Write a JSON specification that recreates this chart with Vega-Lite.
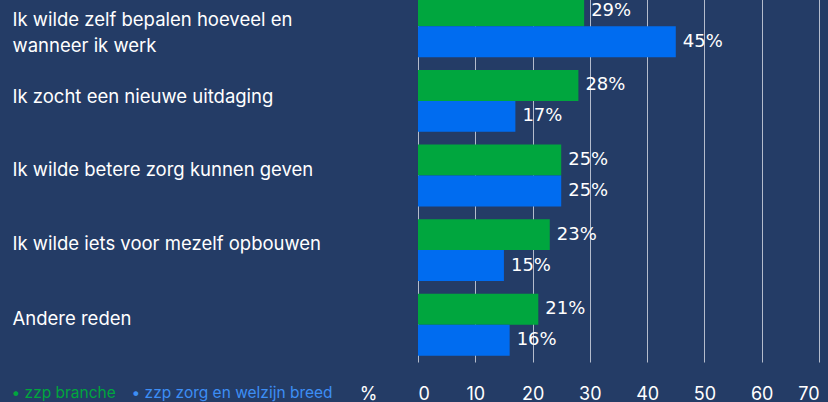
{
  "$schema": "https://vega.github.io/schema/vega-lite/v6.json",
  "autosize": {"type": "none"},
  "padding": {"left": 418, "right": 9, "top": -11, "bottom": 40},
  "width": 401,
  "height": 373,
  "background": "#243c66",
  "config": {"view": {"stroke": null}},
  "data": {
    "values": [
      {"reason": "Ik wilde zelf bepalen hoeveel en wanneer ik werk", "series": "zzp branche", "value": 29, "label": "29%"},
      {"reason": "Ik wilde zelf bepalen hoeveel en wanneer ik werk", "series": "zzp zorg en welzijn breed", "value": 45, "label": "45%"},
      {"reason": "Ik zocht een nieuwe uitdaging", "series": "zzp branche", "value": 28, "label": "28%"},
      {"reason": "Ik zocht een nieuwe uitdaging", "series": "zzp zorg en welzijn breed", "value": 17, "label": "17%"},
      {"reason": "Ik wilde betere zorg kunnen geven", "series": "zzp branche", "value": 25, "label": "25%"},
      {"reason": "Ik wilde betere zorg kunnen geven", "series": "zzp zorg en welzijn breed", "value": 25, "label": "25%"},
      {"reason": "Ik wilde iets voor mezelf opbouwen", "series": "zzp branche", "value": 23, "label": "23%"},
      {"reason": "Ik wilde iets voor mezelf opbouwen", "series": "zzp zorg en welzijn breed", "value": 15, "label": "15%"},
      {"reason": "Andere reden", "series": "zzp branche", "value": 21, "label": "21%"},
      {"reason": "Andere reden", "series": "zzp zorg en welzijn breed", "value": 16, "label": "16%"}
    ]
  },
  "encoding": {
    "y": {
      "field": "reason",
      "type": "nominal",
      "sort": null,
      "scale": {"paddingInner": 0.17, "paddingOuter": 0.085},
      "axis": {
        "title": null,
        "orient": "left",
        "ticks": false,
        "tickSize": 0,
        "domain": false,
        "labelAlign": "left",
        "labelPadding": 406,
        "labelLimit": 400,
        "labelFont": "Inter",
        "labelFontSize": 18.5,
        "labelColor": "#ffffff",
        "labelLineHeight": 26,
        "labelOffset": {"expr": "datum.value == 'Ik wilde zelf bepalen hoeveel en wanneer ik werk' ? -6 : (datum.value == 'Ik zocht een nieuwe uitdaging' ? -4 : -6)"},
        "labelExpr": "datum.label == 'Ik wilde zelf bepalen hoeveel en wanneer ik werk' ? ['Ik wilde zelf bepalen hoeveel en', 'wanneer ik werk'] : datum.label"
      }
    },
    "yOffset": {
      "field": "series",
      "type": "nominal",
      "sort": ["zzp branche", "zzp zorg en welzijn breed"]
    },
    "x": {
      "field": "value",
      "type": "quantitative",
      "scale": {"domain": [0, 70], "nice": false},
      "axis": {
        "values": [0, 10, 20, 30, 40, 50, 60, 70],
        "grid": true,
        "gridColor": "#b4bccc",
        "gridWidth": 1,
        "gridOpacity": 1,
        "ticks": false,
        "tickSize": 0,
        "domain": false,
        "labelFont": "Inter",
        "labelFontSize": 18,
        "labelColor": "#ffffff",
        "labelBaseline": "middle",
        "labelPadding": 32,
        "title": "%",
        "titleX": -50,
        "titleY": 32,
        "titleAlign": "center",
        "titleBaseline": "middle",
        "titleFont": "Inter",
        "titleFontSize": 18,
        "titleFontWeight": "normal",
        "titleColor": "#ffffff"
      }
    }
  },
  "layer": [
    {
      "mark": {"type": "bar"},
      "encoding": {
        "color": {
          "field": "series",
          "type": "nominal",
          "sort": ["zzp branche", "zzp zorg en welzijn breed"],
          "scale": {"domain": ["zzp branche", "zzp zorg en welzijn breed"], "range": ["#00a63e", "#006cf0"]},
          "legend": {
            "title": null,
            "orient": "none",
            "direction": "horizontal",
            "legendX": -422,
            "legendY": 396,
            "padding": 0,
            "symbolSize": 0,
            "symbolOpacity": 0,
            "symbolStrokeWidth": 0,
            "labelOffset": 0,
            "columnPadding": -8,
            "labelLimit": 400,
            "labelFont": "Inter",
            "labelFontSize": 15.5,
            "labelExpr": "'• ' + datum.label",
            "encode": {
              "labels": {
                "update": {
                  "fill": {"signal": "datum.value == 'zzp branche' ? '#00a63e' : '#3d8ef5'"}
                }
              }
            }
          }
        }
      }
    },
    {
      "mark": {"type": "text", "align": "left", "baseline": "middle", "dx": 7, "font": "DejaVu Sans", "fontSize": 18, "color": "#ffffff"},
      "encoding": {
        "text": {"field": "label", "type": "nominal"}
      }
    }
  ]
}
